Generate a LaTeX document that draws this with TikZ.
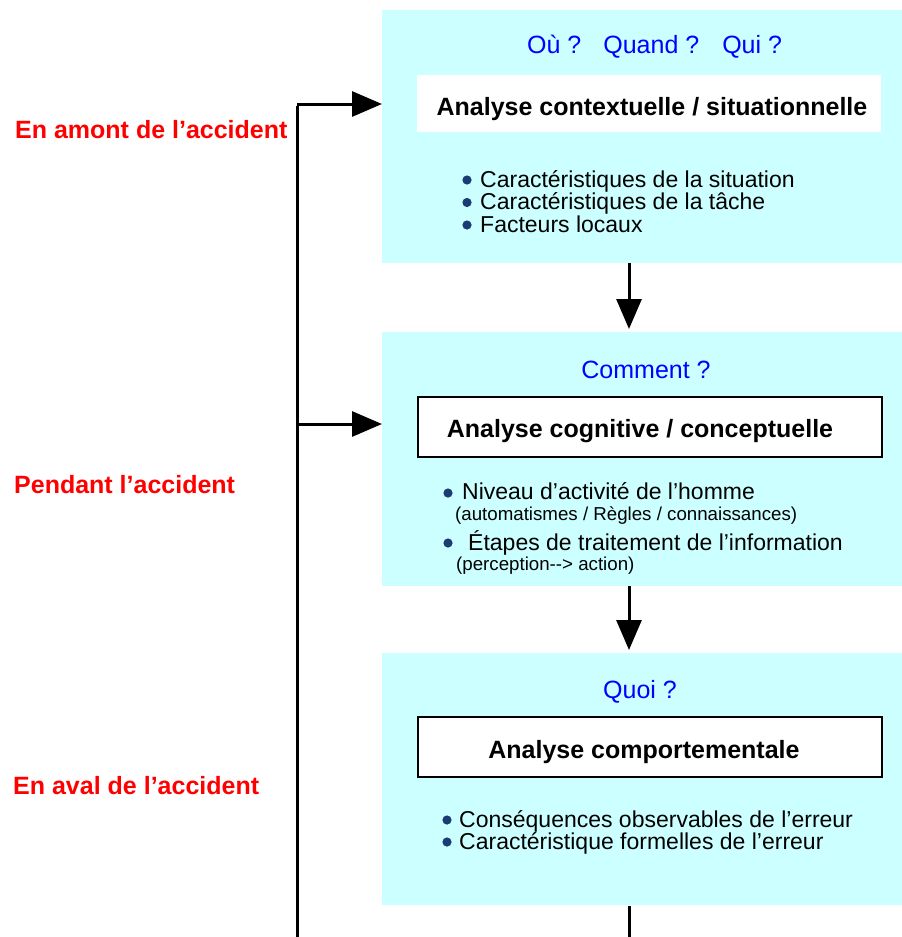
\documentclass[tikz,border=0pt]{standalone}
\usepackage{fontspec}
\setmainfont{Liberation Sans}
\usetikzlibrary{arrows.meta,calc}
\definecolor{boxcyan}{HTML}{CCFFFF}
\definecolor{bulletblue}{HTML}{1A3C73}
\begin{document}
\begin{tikzpicture}[x=1pt,y=-1pt,
  panel/.style={fill=boxcyan,draw=none,minimum width=520pt,anchor=north west,inner sep=0pt},
  titlebox/.style={fill=white,minimum width=464pt,minimum height=60pt,anchor=north west,inner sep=0pt},
  titletext/.style={anchor=base,inner sep=0pt,font=\bfseries\fontsize{25}{30}\selectfont},
  question/.style={anchor=base,inner sep=0pt,text=blue,font=\fontsize{25}{30}\selectfont},
  phase/.style={anchor=base west,inner sep=0pt,text=red,font=\bfseries\fontsize{25}{30}\selectfont},
  item/.style={anchor=base west,inner sep=0pt,font=\fontsize{23}{27}\selectfont},
  subitem/.style={anchor=base west,inner sep=0pt,font=\fontsize{18.7}{22}\selectfont},
  dot/.style={fill=bulletblue},
  arr/.style={line width=3pt,-{Triangle[length=30pt,width=25pt]}},
  plain/.style={line width=3pt}]
\useasboundingbox (0,0) rectangle (902,937);
% panels
\node[panel,minimum height=253pt] (p1) at (382,10) {};
\node[panel,minimum height=254pt] (p2) at (382,332) {};
\node[panel,minimum height=252pt] (p3) at (382,653) {};
% title boxes
\node[titlebox,minimum height=57pt] (b1) at (417,75) {};
\node[titlebox,draw=black,line width=1.5pt] (b2) at (417,396) {};
\node[titlebox,draw=black,line width=1.5pt] (b3) at (417,716) {};
% questions
\node[question,anchor=base west] (q1) at (527,53) {Où ?\hspace{22pt}Quand ?\hspace{23pt}Qui ?};
\node[question] (q2) at (646,378) {Comment ?};
\node[question] (q3) at (640,698) {Quoi ?};
% titles
\node[titletext] (t1) at (652,115) {Analyse contextuelle / situationnelle};
\node[titletext] (t2) at (640,437) {Analyse cognitive / conceptuelle};
\node[titletext] (t3) at (644,758) {Analyse comportementale};
% bullets panel 1
\fill[dot] (467,180) circle (4.6);
\fill[dot] (467,202.5) circle (4.6);
\fill[dot] (467,225) circle (4.6);
\node[item] (i11) at (480,187) {Caractéristiques de la situation};
\node[item] (i12) at (480,209.5) {Caractéristiques de la tâche};
\node[item] (i13) at (480,232) {Facteurs locaux};
% bullets panel 2
\fill[dot] (448,493) circle (4.6);
\fill[dot] (448,543) circle (4.6);
\node[item] (i21) at (462,499) {Niveau d’activité de l’homme};
\node[subitem] (s21) at (455,520) {(automatismes / Règles / connaissances)};
\node[item] (i22) at (468,550) {Étapes de traitement de l’information};
\node[subitem] (s22) at (456,570) {(perception-{}-{}> action)};
% bullets panel 3
\fill[dot] (447,820) circle (4.6);
\fill[dot] (447,842) circle (4.6);
\node[item] (i31) at (459,827) {Conséquences observables de l’erreur};
\node[item] (i32) at (459,849) {Caractéristique formelles de l’erreur};
% phase labels
\node[phase] (l1) at (15,138) {En amont de l’accident};
\node[phase] (l2) at (14,493) {Pendant l’accident};
\node[phase] (l3) at (13,794) {En aval de l’accident};
% connectors
\coordinate (col) at (629,0);
\coordinate (s1) at (297,104);
\coordinate (s2) at (297,424);
\coordinate (sb) at (297,937);
\coordinate (cb) at (629,937);
\draw[plain] ([yshift=-1.5pt]s1) -- (sb);
\draw[arr] (s1) -- (s1 -| p1.west);
\draw[arr] (s2) -- (s2 -| p2.west);
\draw[arr,shorten >=3pt] (p1.south -| col) -- (p2.north -| col);
\draw[arr,shorten >=3pt] (p2.south -| col) -- (p3.north -| col);
\draw[plain,shorten <=1pt] (p3.south -| col) -- (cb);
\end{tikzpicture}
\end{document}
